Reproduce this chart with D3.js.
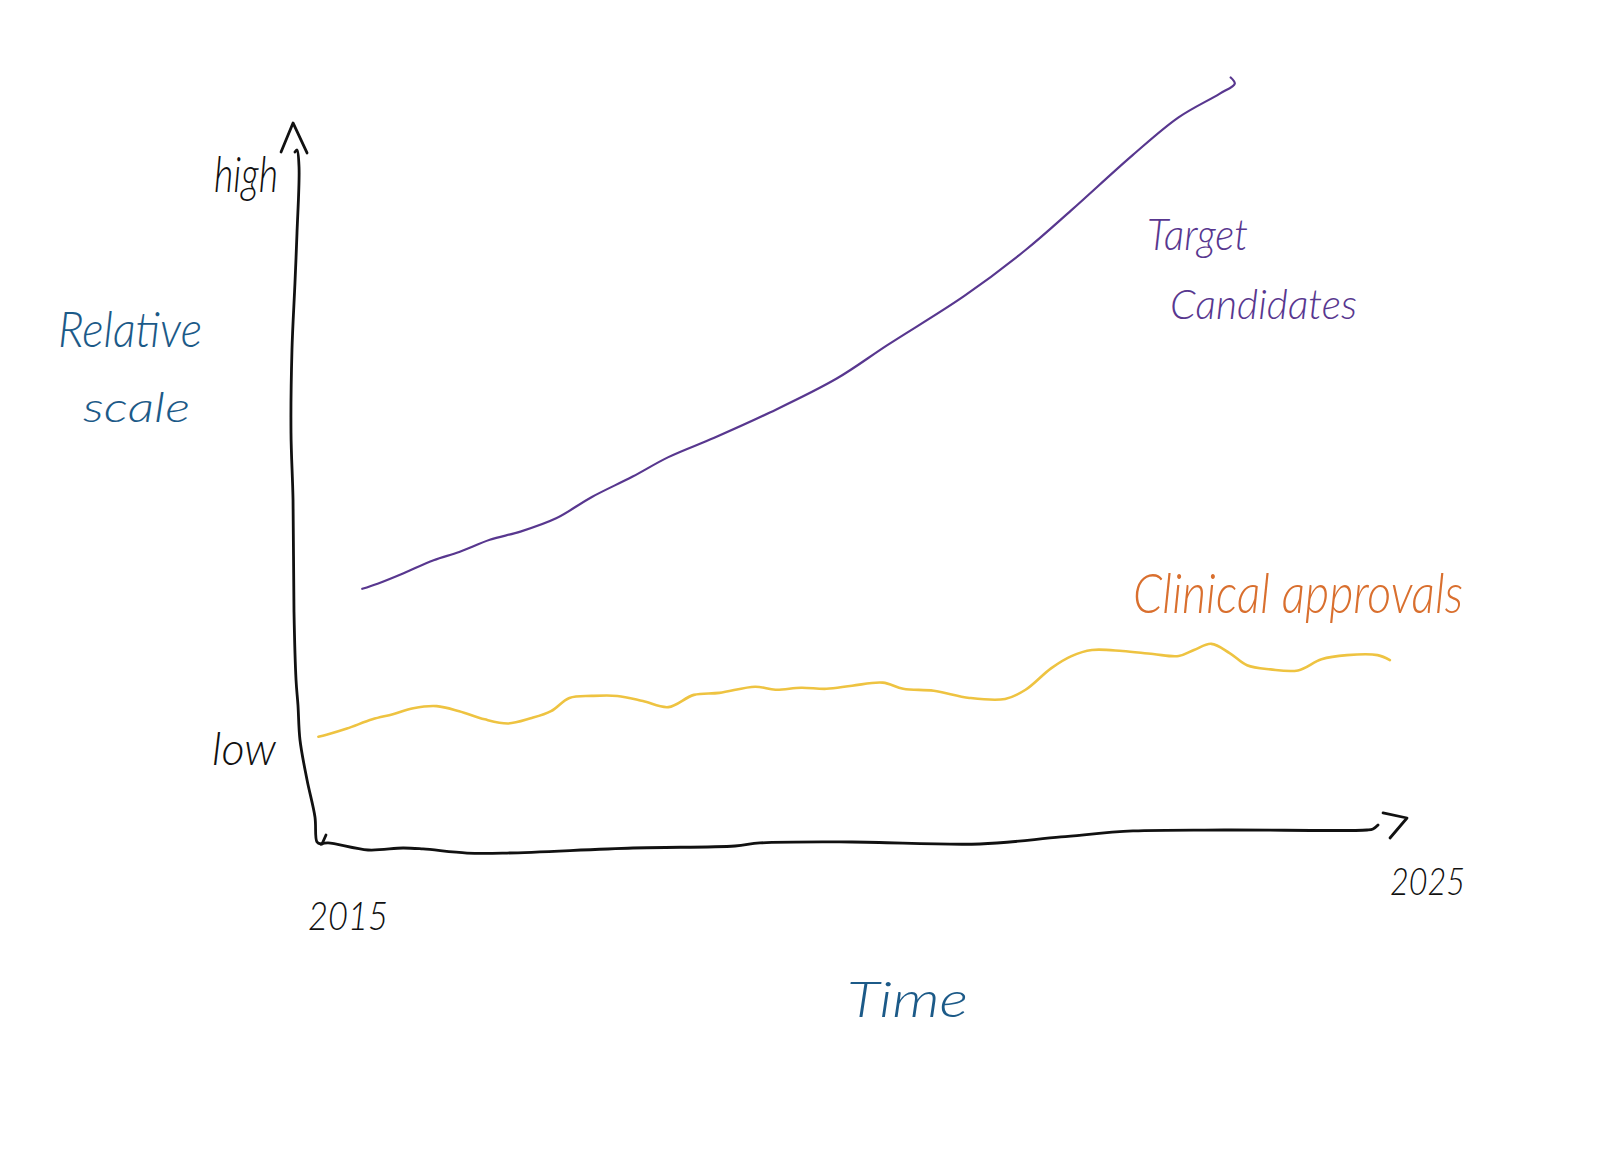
<!DOCTYPE html>
<html>
<head>
<meta charset="utf-8">
<script src="https://cdn.jsdelivr.net/npm/d3@7"></script>
<style>
html,body{margin:0;padding:0;background:#fff;}
svg{display:block;}
</style>
</head>
<body>
<svg id="chart" width="1600" height="1154"></svg>
<script>
// Values: [year, relative scale 0-100]
const targetCandidates = [[2015.395,32.65],[2015.538,33.29],[2015.776,34.57],[2016.062,36.23],[2016.301,37.25],[2016.587,38.78],[2016.873,39.80],[2017.207,41.46],[2017.541,44.13],[2017.922,46.68],[2018.256,49.11],[2018.685,51.53],[2019.210,54.72],[2019.829,58.93],[2020.306,63.14],[2021.022,69.26],[2021.594,75.00],[2022.023,79.98],[2022.595,86.86],[2023.024,91.58],[2023.406,94.52],[2023.549,95.79],[2023.511,96.56]];
const clinicalApprovals = [[2014.985,14.16],[2015.061,14.41],[2015.252,15.18],[2015.490,16.33],[2015.681,16.97],[2015.872,17.73],[2016.091,17.99],[2016.301,17.35],[2016.539,16.33],[2016.759,15.82],[2016.969,16.46],[2017.159,17.35],[2017.331,19.01],[2017.541,19.26],[2017.779,19.26],[2018.018,18.62],[2018.256,17.86],[2018.494,19.39],[2018.733,19.64],[2019.067,20.41],[2019.257,20.03],[2019.496,20.28],[2019.734,20.15],[2019.973,20.54],[2020.259,20.92],[2020.450,20.15],[2020.736,19.90],[2021.069,19.01],[2021.403,18.88],[2021.594,20.03],[2021.832,22.71],[2022.023,24.24],[2022.214,25.00],[2022.500,24.87],[2022.786,24.49],[2023.025,24.24],[2023.168,25.00],[2023.330,25.77],[2023.501,24.62],[2023.664,23.09],[2023.883,22.58],[2024.140,22.45],[2024.360,23.85],[2024.598,24.36],[2024.884,24.36],[2024.999,23.73]];

// Hand-drawn axes, in the same data units
const yAxisStroke = [[2014.766,87.25],[2014.785,87.50],[2014.804,85.38],[2014.785,77.13],[2014.766,70.88],[2014.738,62.50],[2014.729,52.13],[2014.748,43.75],[2014.757,29.75],[2014.776,21.25],[2014.794,18.13],[2014.813,13.75],[2014.879,8.75],[2014.953,4.13],[2014.972,1.00],[2015.009,0.75]];
const xAxisStroke = [[2015.009,0.75],[2015.075,0.88],[2015.449,0.00],[2015.776,0.25],[2015.963,0.13],[2016.374,-0.38],[2016.748,-0.38],[2017.925,0.25],[2018.879,0.50],[2019.112,0.88],[2019.972,1.00],[2021.168,0.75],[2021.925,1.63],[2022.598,2.38],[2023.449,2.50],[2024.785,2.50],[2024.841,2.63],[2024.888,3.13]];
const yArrowHead = [[2014.636,87.25],[2014.748,90.88],[2014.879,87.13]];
const xArrowHead = [[2024.935,4.63],[2025.159,4.00],[2025.000,1.50]];
const originTick = [[2015.056,1.88],[2015.019,0.75]];

// Text
const yTickLabels = ["low","high"];
const xTickLabels = ["2015","2025"];
const yAxisTitle = ["Relative","scale"];
const xAxisTitle = ["Time"];
const targetLabel = ["Target","Candidates"];
const clinicalLabel = ["Clinical approvals"];

const svg = d3.select("#chart");
const x = d3.scaleLinear().domain([2015,2025]).range([320,1390]);
const y = d3.scaleLinear().domain([0,100]).range([850,50]);

const smooth = d3.line().x(d=>x(d[0])).y(d=>y(d[1])).curve(d3.curveCatmullRom.alpha(0.5));
const straight = d3.line().x(d=>x(d[0])).y(d=>y(d[1])).curve(d3.curveLinear);

function stroke(data, gen, color, w){
  svg.append("path").datum(data).attr("d",gen).attr("fill","none")
     .attr("stroke",color).attr("stroke-width",w)
     .attr("stroke-linecap","round").attr("stroke-linejoin","round");
}
const INK="#111111", BLUE="#1c5a88", PURPLE="#58378f", ORANGE="#d96f2e", YELLOW="#eec341";

stroke(yAxisStroke,smooth,INK,2.8);
stroke(xAxisStroke,smooth,INK,2.8);
stroke(yArrowHead,straight,INK,2.8);
stroke(xArrowHead,straight,INK,2.8);
stroke(originTick,straight,INK,2.8);
stroke(targetCandidates,smooth,PURPLE,2.2);
stroke(clinicalApprovals,smooth,YELLOW,2.6);

function label(txt,x0,x1,base,size,color){
  svg.append("text").text(txt).attr("x",x0).attr("y",base)
     .attr("textLength",x1-x0).attr("lengthAdjust","spacingAndGlyphs")
     .attr("font-family","Lato, 'Open Sans', sans-serif").attr("font-style","italic")
     .attr("font-weight",300).attr("font-size",size).attr("fill",color);
}
label(yTickLabels[1],214,278,192,50,INK);
label(yTickLabels[0],212,276,765,46,INK);
label(xTickLabels[0],308,388,930,40,INK);
label(xTickLabels[1],1390,1465,895,38,INK);
label(yAxisTitle[0],58,202,347,50,BLUE);
label(yAxisTitle[1],83,190,422,42,BLUE);
label(xAxisTitle[0],847,968,1017,50,BLUE);
label(targetLabel[0],1147,1248,250,44,PURPLE);
label(targetLabel[1],1170,1357,319,42,PURPLE);
label(clinicalLabel[0],1133,1463,613,56,ORANGE);
</script>
</body>
</html>
